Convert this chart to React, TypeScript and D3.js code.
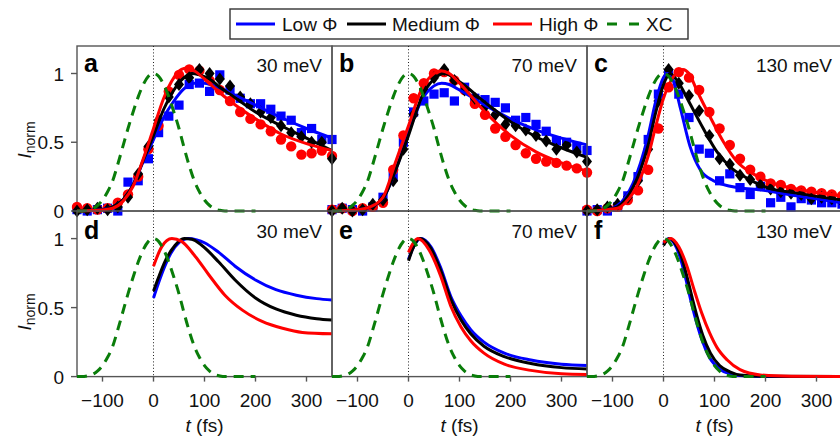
import React from "react";
import * as d3 from "d3";

// ---------- data ----------
const tGrid = [-150, -130, -110, -90, -70, -50, -30, -10, 10, 30, 50, 70, 90, 110, 130, 150, 170, 190, 210, 230, 250, 270, 290, 310, 330, 350];

const aLowPts = [0.01, 0.0, 0.01, 0.02, 0.0, 0.21, 0.22, 0.38, 0.57, 0.69, 0.77, 0.92, 0.93, 0.87, 0.99, 0.88, 0.82, 0.78, 0.78, 0.74, 0.69, 0.66, 0.57, 0.6, 0.52, 0.52];
const aHighPts = [0.03, 0.02, 0.01, 0.02, 0.06, 0.12, 0.25, 0.45, 0.62, 0.87, 0.99, 1.03, 1.02, 0.95, 0.88, 0.8, 0.72, 0.67, 0.63, 0.58, 0.52, 0.47, 0.41, 0.42, 0.44, 0.4];
const aMedPts = [0.0, 0.01, 0.02, 0.01, 0.03, 0.1, 0.27, 0.47, 0.66, 0.83, 0.92, 0.97, 1.03, 1.0, 0.96, 0.91, 0.83, 0.78, 0.72, 0.68, 0.62, 0.57, 0.54, 0.5, 0.5, 0.38];

const bLowPts = [0.01, 0.02, 0.01, 0.0, 0.03, 0.1, 0.25, 0.5, 0.72, 0.8, 0.85, 0.86, 0.8, 0.9, 0.82, 0.81, 0.79, 0.75, 0.66, 0.68, 0.63, 0.58, 0.51, 0.5, 0.47, 0.44];
const bHighPts = [0.01, 0.02, 0.0, 0.02, 0.03, 0.06, 0.3, 0.55, 0.82, 0.93, 1.0, 1.01, 0.95, 0.88, 0.78, 0.7, 0.6, 0.54, 0.48, 0.42, 0.38, 0.36, 0.35, 0.33, 0.31, 0.28];
const bMedPts = [0.0, 0.02, 0.0, 0.01, 0.05, 0.08, 0.22, 0.45, 0.7, 0.88, 0.97, 1.03, 0.95, 0.88, 0.82, 0.76, 0.7, 0.63, 0.62, 0.59, 0.55, 0.51, 0.45, 0.48, 0.43, 0.36];

const cLowPts = [0.0, 0.01, 0.0, 0.03, 0.11, 0.25, 0.52, 0.85, 1.0, 0.85, 0.68, 0.45, 0.42, 0.22, 0.27, 0.17, 0.12, 0.18, 0.06, 0.1, 0.03, 0.09, 0.08, 0.06, 0.06, 0.05];
const cHighPts = [0.01, 0.0, 0.02, 0.03, 0.08, 0.15, 0.3, 0.6, 0.9, 1.01, 0.97, 0.88, 0.72, 0.6, 0.48, 0.38, 0.3, 0.25, 0.2, 0.19, 0.16, 0.15, 0.14, 0.13, 0.12, 0.11];
const cMedPts = [0.0, 0.01, 0.03, 0.05, 0.1, 0.22, 0.45, 0.8, 1.03, 0.93, 0.84, 0.73, 0.55, 0.38, 0.34, 0.26, 0.23, 0.19, 0.16, 0.14, 0.13, 0.12, 0.09, 0.1, 0.09, 0.07];

type P = [number, number];

const aLowFit: P[] = [[-150, 0], [-120, 0.005], [-100, 0.012], [-80, 0.03], [-60, 0.08], [-40, 0.19], [-20, 0.36], [0, 0.52], [20, 0.68], [40, 0.8], [60, 0.89], [80, 0.93], [100, 0.93], [120, 0.91], [150, 0.86], [200, 0.77], [250, 0.68], [300, 0.6], [350, 0.53]];
const aMedFit: P[] = [[-150, 0], [-120, 0.004], [-100, 0.01], [-80, 0.03], [-60, 0.08], [-40, 0.19], [-20, 0.37], [0, 0.55], [20, 0.74], [40, 0.88], [60, 0.97], [75, 1.0], [90, 0.99], [110, 0.96], [130, 0.9], [150, 0.85], [200, 0.72], [250, 0.62], [300, 0.53], [350, 0.44]];
const aHighFit: P[] = [[-150, 0], [-120, 0.003], [-100, 0.008], [-80, 0.02], [-60, 0.07], [-40, 0.18], [-20, 0.38], [0, 0.6], [20, 0.82], [40, 0.97], [55, 1.03], [65, 1.04], [80, 1.02], [100, 0.96], [130, 0.86], [150, 0.8], [200, 0.67], [250, 0.56], [300, 0.49], [350, 0.44]];

const bLowFit: P[] = [[-150, 0], [-100, 0.01], [-75, 0.03], [-50, 0.09], [-25, 0.3], [0, 0.57], [25, 0.8], [50, 0.91], [65, 0.93], [80, 0.92], [100, 0.88], [150, 0.77], [200, 0.67], [250, 0.59], [300, 0.53], [350, 0.48]];
const bMedFit: P[] = [[-150, 0], [-100, 0.01], [-75, 0.03], [-50, 0.09], [-25, 0.3], [0, 0.55], [25, 0.82], [50, 0.96], [70, 1.0], [100, 0.94], [150, 0.79], [200, 0.65], [250, 0.54], [300, 0.46], [350, 0.39]];
const bHighFit: P[] = [[-150, 0], [-100, 0.01], [-75, 0.03], [-50, 0.1], [-25, 0.36], [0, 0.62], [25, 0.88], [50, 1.0], [63, 1.02], [80, 1.0], [100, 0.93], [150, 0.72], [200, 0.55], [250, 0.43], [300, 0.35], [350, 0.29]];

const cLowFit: P[] = [[-150, 0], [-110, 0.01], [-90, 0.04], [-75, 0.1], [-60, 0.2], [-45, 0.35], [-30, 0.55], [-15, 0.8], [0, 0.97], [8, 1.0], [18, 0.96], [33, 0.75], [52, 0.47], [72, 0.3], [98, 0.22], [131, 0.18], [196, 0.15], [261, 0.11], [350, 0.06]];
const cMedFit: P[] = [[-150, 0], [-110, 0.01], [-90, 0.03], [-75, 0.08], [-60, 0.17], [-45, 0.3], [-30, 0.48], [-15, 0.72], [0, 0.92], [13, 1.0], [30, 0.93], [52, 0.78], [78, 0.6], [105, 0.43], [131, 0.32], [163, 0.24], [203, 0.17], [261, 0.13], [350, 0.08]];
const cHighFit: P[] = [[-150, 0], [-110, 0.01], [-90, 0.02], [-75, 0.06], [-60, 0.13], [-45, 0.24], [-30, 0.4], [-15, 0.62], [0, 0.82], [20, 0.98], [38, 1.03], [50, 1.0], [65, 0.88], [92, 0.68], [118, 0.5], [144, 0.36], [176, 0.27], [216, 0.2], [261, 0.16], [350, 0.11]];

const dLow: P[] = [[0, 0.57], [10, 0.68], [20, 0.78], [35, 0.9], [50, 0.97], [68, 1.0], [85, 0.99], [100, 0.97], [128, 0.9], [160, 0.8], [200, 0.7], [240, 0.63], [280, 0.59], [320, 0.565], [350, 0.555]];
const dMed: P[] = [[0, 0.62], [10, 0.72], [22, 0.83], [42, 0.95], [60, 1.0], [75, 0.995], [95, 0.95], [128, 0.83], [160, 0.7], [200, 0.57], [240, 0.49], [280, 0.445], [320, 0.42], [350, 0.41]];
const dHigh: P[] = [[0, 0.8], [16, 0.94], [36, 1.0], [55, 0.98], [82, 0.87], [108, 0.74], [140, 0.59], [175, 0.48], [213, 0.4], [253, 0.35], [292, 0.32], [350, 0.31]];

const eLow: P[] = [[0, 0.85], [10, 0.94], [24, 1.0], [44, 0.94], [63, 0.79], [83, 0.58], [103, 0.44], [122, 0.34], [148, 0.25], [188, 0.17], [240, 0.12], [300, 0.09], [350, 0.08]];
const eMed: P[] = [[0, 0.84], [10, 0.94], [22, 1.0], [42, 0.94], [63, 0.77], [83, 0.56], [103, 0.41], [122, 0.31], [148, 0.22], [188, 0.145], [240, 0.095], [300, 0.065], [350, 0.055]];
const eHigh: P[] = [[0, 0.9], [8, 0.96], [18, 1.0], [40, 0.92], [63, 0.73], [83, 0.51], [103, 0.36], [122, 0.26], [148, 0.17], [188, 0.09], [240, 0.045], [300, 0.02], [350, 0.015]];

const fLow: P[] = [[0, 0.96], [10, 1.0], [20, 0.97], [33, 0.86], [45, 0.69], [55, 0.53], [65, 0.39], [75, 0.27], [90, 0.14], [110, 0.055], [130, 0.02], [150, 0.008], [200, 0.0], [350, 0]];
const fMed: P[] = [[0, 0.95], [12, 1.0], [22, 0.97], [35, 0.87], [47, 0.71], [57, 0.56], [67, 0.42], [77, 0.3], [92, 0.17], [110, 0.08], [130, 0.035], [150, 0.012], [200, 0.002], [350, 0]];
const fHigh: P[] = [[0, 0.97], [14, 1.0], [30, 0.94], [46, 0.8], [60, 0.63], [75, 0.46], [90, 0.32], [105, 0.21], [125, 0.12], [150, 0.05], [190, 0.012], [250, 0.002], [350, 0]];

const xcT = [-150, -140, -130, -120, -110, -100, -90, -80, -70, -60, -50, -40, -30, -20, -10, 0, 10, 20, 30, 40, 50, 60, 70, 80, 90, 100, 110, 120, 130, 140, 150, 160, 170, 180, 190, 200];
const xcV = [0, 0, 0.005, 0.015, 0.04, 0.08, 0.14, 0.22, 0.34, 0.47, 0.6, 0.72, 0.83, 0.92, 0.98, 1, 0.98, 0.92, 0.83, 0.72, 0.6, 0.46, 0.33, 0.22, 0.14, 0.08, 0.04, 0.015, 0.005, 0, 0, 0, 0, 0, 0, 0];

const xTicks = [-100, 0, 100, 200, 300];
const yTicks = [0, 0.5, 1];
const energies = ["30 meV", "70 meV", "130 meV"];
const letters = ["a", "b", "c", "d", "e", "f"];
const seriesNames = ["Low Φ", "Medium Φ", "High Φ", "XC"];

// ---------- style ----------
const BLUE = "#0000ff";
const RED = "#ff0000";
const BLACK = "#000000";
const GREEN = "#0a7d0a";
const FONT = "'Liberation Sans', Arial, Helvetica, sans-serif";
const FS = 19;

const lefts = [77, 332, 587];
const PW = 255;
const rows = [
  { top: 46, bottom: 211 },
  { top: 211, bottom: 376.6 },
];

const topPts = [
  [aLowPts, aMedPts, aHighPts],
  [bLowPts, bMedPts, bHighPts],
  [cLowPts, cMedPts, cHighPts],
];
const topFits = [
  [aLowFit, aMedFit, aHighFit],
  [bLowFit, bMedFit, bHighFit],
  [cLowFit, cMedFit, cHighFit],
];
const botFits = [
  [dLow, dMed, dHigh],
  [eLow, eMed, eHigh],
  [fLow, fMed, fHigh],
];
const colors = [BLUE, BLACK, RED];

function Marker({ kind, x, y, color }: { kind: number; x: number; y: number; color: string }) {
  if (kind === 0) return <rect x={x - 4.6} y={y - 4.6} width={9.2} height={9.2} fill={color} />;
  if (kind === 2) return <circle cx={x} cy={y} r={5.2} fill={color} />;
  return <path d={`M${x},${y - 6.5}L${x + 5},${y}L${x},${y + 6.5}L${x - 5},${y}Z`} fill={color} />;
}

function Panel({ col, row }: { col: number; row: number }) {
  const left = lefts[col];
  const { top, bottom } = rows[row];
  const x = d3.scaleLinear().domain([-150, 350]).range([left, left + PW]);
  const y = d3.scaleLinear().domain([0, 1.2]).range([bottom, top]);
  const line = d3
    .line<P>()
    .x((d) => x(d[0]))
    .y((d) => y(d[1]))
    .curve(d3.curveMonotoneX);
  const fits = row === 0 ? topFits[col] : botFits[col];
  const xc: P[] = xcT.map((t, i) => [t, xcV[i]]);
  const letter = letters[row * 3 + col];
  return (
    <g>
      <rect x={left} y={top} width={PW} height={bottom - top} fill="none" stroke="#555" strokeWidth={1.4} />
      <line x1={x(0)} x2={x(0)} y1={top} y2={bottom} stroke="#222" strokeWidth={1} strokeDasharray="1,2.2" />
      {row === 0 &&
        [0, 2, 1].map((k) =>
          topPts[col][k].map((v, i) => (
            <Marker key={`m${k}-${i}`} kind={k} x={x(tGrid[i])} y={y(v)} color={colors[k]} />
          ))
        )}
      {[0, 1, 2].map((k) => (
        <path key={`f${k}`} d={line(fits[k]) || ""} fill="none" stroke={colors[k]} strokeWidth={3} />
      ))}
      <path d={line(xc) || ""} fill="none" stroke={GREEN} strokeWidth={3} strokeDasharray="10,7" />
      <text x={left + 7} y={row === 0 ? 72 : 239} fontSize={25} fontWeight="bold" fill="#000">
        {letter}
      </text>
      <text x={left + PW - 10} y={row === 0 ? 71.5 : 238} fontSize={FS} textAnchor="end" fill="#111">
        {energies[col]}
      </text>
      {col === 0 &&
        yTicks.map((v) => (
          <g key={`yt${v}`}>
            <line x1={left - 6} x2={left} y1={y(v)} y2={y(v)} stroke="#555" strokeWidth={1.4} />
            <text x={left - 13} y={y(v) + 7} fontSize={FS} textAnchor="end" fill="#111">
              {v}
            </text>
          </g>
        ))}
      {row === 1 &&
        xTicks.map((t) => (
          <g key={`xt${t}`}>
            <line x1={x(t)} x2={x(t)} y1={bottom} y2={bottom + 5} stroke="#555" strokeWidth={1.4} />
            <text x={x(t)} y={bottom + 30} fontSize={FS} textAnchor="middle" fill="#111">
              {t < 0 ? `\u2212${Math.abs(t)}` : t}
            </text>
          </g>
        ))}
      {row === 1 && (
        <text x={left + PW / 2} y={432} fontSize={FS} textAnchor="middle" fill="#111">
          <tspan fontStyle="italic">t</tspan> (fs)
        </text>
      )}
      {col === 0 && (
        <text transform={`translate(31,${row === 0 ? 140 : 312}) rotate(-90)`} fontSize={FS} textAnchor="middle" fill="#111">
          <tspan fontStyle="italic">I</tspan>
          <tspan fontSize={14} dy={4}>norm</tspan>
        </text>
      )}
    </g>
  );
}

function Legend() {
  const items = [
    { x1: 236, x2: 275, tx: 282, color: BLUE, dash: undefined },
    { x1: 347, x2: 386, tx: 392, color: BLACK, dash: undefined },
    { x1: 493, x2: 532, tx: 539, color: RED, dash: undefined },
    { x1: 607, x2: 640, tx: 646, color: GREEN, dash: "10,12" },
  ];
  return (
    <g>
      <rect x={230} y={9} width={458} height={30} fill="#fff" stroke="#333" strokeWidth={1.4} />
      {items.map((it, i) => (
        <g key={i}>
          <line x1={it.x1} x2={it.x2} y1={24} y2={24} stroke={it.color} strokeWidth={3} strokeDasharray={it.dash} />
          <text x={it.tx} y={30.5} fontSize={FS} fill="#111">
            {seriesNames[i]}
          </text>
        </g>
      ))}
    </g>
  );
}

export default function App() {
  return (
    <svg
      width={840}
      height={437}
      style={{ position: "absolute", left: 0, top: 0, background: "#fff" }}
      fontFamily={FONT}
    >
      <rect width={840} height={437} fill="#fff" />
      {[0, 1].map((r) => [0, 1, 2].map((c) => <Panel key={`${r}-${c}`} row={r} col={c} />))}
      <Legend />
    </svg>
  );
}
